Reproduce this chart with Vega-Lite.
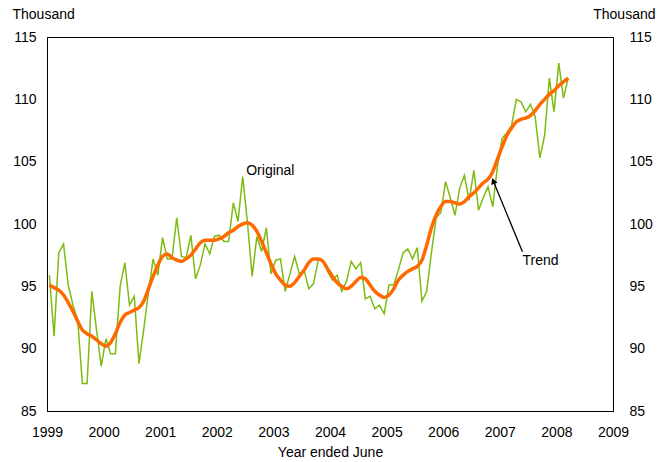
{
  "$schema": "https://vega.github.io/schema/vega-lite/v6.json",
  "width": 566,
  "height": 374,
  "autosize": {"type": "none"},
  "padding": {"left": 47, "top": 37, "right": 54, "bottom": 51},
  "background": "#ffffff",
  "config": {
    "view": {"stroke": "#000000", "strokeWidth": 1},
    "font": "Liberation Sans",
    "axis": {
      "grid": false, "ticks": false, "tickSize": 0, "domainColor": "#000000",
      "labelFont": "Liberation Sans", "labelFontSize": 14, "labelColor": "#000000",
      "titleFont": "Liberation Sans", "titleFontSize": 14, "titleFontWeight": "normal", "titleColor": "#000000"
    }
  },
  "datasets": {
    "series": [
      {"year": 1999.042, "original": 95.9, "trend": 95.1},
      {"year": 1999.125, "original": 91.0, "trend": 94.9},
      {"year": 1999.208, "original": 97.7, "trend": 94.7},
      {"year": 1999.292, "original": 98.4, "trend": 94.3},
      {"year": 1999.375, "original": 95.1, "trend": 93.7},
      {"year": 1999.458, "original": 93.5, "trend": 93.0},
      {"year": 1999.542, "original": 92.3, "trend": 92.2},
      {"year": 1999.625, "original": 87.2, "trend": 91.5},
      {"year": 1999.708, "original": 87.2, "trend": 91.2},
      {"year": 1999.792, "original": 94.6, "trend": 91.0},
      {"year": 1999.875, "original": 91.5, "trend": 90.7},
      {"year": 1999.958, "original": 88.6, "trend": 90.4},
      {"year": 2000.042, "original": 90.8, "trend": 90.2},
      {"year": 2000.125, "original": 89.6, "trend": 90.5},
      {"year": 2000.208, "original": 89.6, "trend": 91.2},
      {"year": 2000.292, "original": 95.0, "trend": 92.1},
      {"year": 2000.375, "original": 96.9, "trend": 92.7},
      {"year": 2000.458, "original": 93.5, "trend": 92.9},
      {"year": 2000.542, "original": 94.2, "trend": 93.1},
      {"year": 2000.625, "original": 88.8, "trend": 93.3},
      {"year": 2000.708, "original": 91.5, "trend": 93.8},
      {"year": 2000.792, "original": 94.5, "trend": 94.8},
      {"year": 2000.875, "original": 97.2, "trend": 95.8},
      {"year": 2000.958, "original": 95.9, "trend": 96.7},
      {"year": 2001.042, "original": 98.9, "trend": 97.4},
      {"year": 2001.125, "original": 97.2, "trend": 97.6},
      {"year": 2001.208, "original": 97.2, "trend": 97.3},
      {"year": 2001.292, "original": 100.5, "trend": 97.1},
      {"year": 2001.375, "original": 97.4, "trend": 97.0},
      {"year": 2001.458, "original": 97.3, "trend": 97.2},
      {"year": 2001.542, "original": 99.1, "trend": 97.5},
      {"year": 2001.625, "original": 95.6, "trend": 98.0},
      {"year": 2001.708, "original": 96.7, "trend": 98.5},
      {"year": 2001.792, "original": 98.4, "trend": 98.7},
      {"year": 2001.875, "original": 97.6, "trend": 98.7},
      {"year": 2001.958, "original": 99.0, "trend": 98.7},
      {"year": 2002.042, "original": 99.1, "trend": 98.8},
      {"year": 2002.125, "original": 98.6, "trend": 99.0},
      {"year": 2002.208, "original": 98.6, "trend": 99.3},
      {"year": 2002.292, "original": 101.7, "trend": 99.5},
      {"year": 2002.375, "original": 100.2, "trend": 99.8},
      {"year": 2002.458, "original": 103.8, "trend": 100.0},
      {"year": 2002.542, "original": 100.1, "trend": 100.1},
      {"year": 2002.625, "original": 95.8, "trend": 99.9},
      {"year": 2002.708, "original": 99.0, "trend": 99.4},
      {"year": 2002.792, "original": 97.8, "trend": 98.6},
      {"year": 2002.875, "original": 99.7, "trend": 97.7},
      {"year": 2002.958, "original": 96.0, "trend": 96.8},
      {"year": 2003.042, "original": 97.1, "trend": 96.0},
      {"year": 2003.125, "original": 97.2, "trend": 95.5},
      {"year": 2003.208, "original": 94.6, "trend": 95.1},
      {"year": 2003.292, "original": 96.0, "trend": 95.0},
      {"year": 2003.375, "original": 97.4, "trend": 95.3},
      {"year": 2003.458, "original": 96.0, "trend": 95.8},
      {"year": 2003.542, "original": 96.3, "trend": 96.3},
      {"year": 2003.625, "original": 94.8, "trend": 96.9},
      {"year": 2003.708, "original": 95.2, "trend": 97.2},
      {"year": 2003.792, "original": 97.1, "trend": 97.2},
      {"year": 2003.875, "original": 97.1, "trend": 97.0},
      {"year": 2003.958, "original": 96.2, "trend": 96.4},
      {"year": 2004.042, "original": 95.5, "trend": 95.8},
      {"year": 2004.125, "original": 95.9, "trend": 95.3},
      {"year": 2004.208, "original": 94.6, "trend": 95.0},
      {"year": 2004.292, "original": 95.4, "trend": 94.8},
      {"year": 2004.375, "original": 97.0, "trend": 95.0},
      {"year": 2004.458, "original": 96.4, "trend": 95.4},
      {"year": 2004.542, "original": 96.9, "trend": 95.7},
      {"year": 2004.625, "original": 94.0, "trend": 95.6},
      {"year": 2004.708, "original": 94.2, "trend": 95.1},
      {"year": 2004.792, "original": 93.2, "trend": 94.6},
      {"year": 2004.875, "original": 93.5, "trend": 94.3},
      {"year": 2004.958, "original": 92.8, "trend": 94.1},
      {"year": 2005.042, "original": 95.1, "trend": 94.3},
      {"year": 2005.125, "original": 95.1, "trend": 94.8},
      {"year": 2005.208, "original": 96.3, "trend": 95.5},
      {"year": 2005.292, "original": 97.7, "trend": 95.9},
      {"year": 2005.375, "original": 98.0, "trend": 96.2},
      {"year": 2005.458, "original": 97.2, "trend": 96.4},
      {"year": 2005.542, "original": 98.1, "trend": 96.6},
      {"year": 2005.625, "original": 93.8, "trend": 97.1},
      {"year": 2005.708, "original": 94.6, "trend": 98.3},
      {"year": 2005.792, "original": 97.7, "trend": 99.7},
      {"year": 2005.875, "original": 100.5, "trend": 100.7},
      {"year": 2005.958, "original": 100.9, "trend": 101.4},
      {"year": 2006.042, "original": 103.4, "trend": 101.8},
      {"year": 2006.125, "original": 102.1, "trend": 101.8},
      {"year": 2006.208, "original": 100.7, "trend": 101.7},
      {"year": 2006.292, "original": 102.9, "trend": 101.6},
      {"year": 2006.375, "original": 103.9, "trend": 101.8},
      {"year": 2006.458, "original": 101.9, "trend": 102.2},
      {"year": 2006.542, "original": 104.3, "trend": 102.5},
      {"year": 2006.625, "original": 101.1, "trend": 102.9},
      {"year": 2006.708, "original": 102.1, "trend": 103.3},
      {"year": 2006.792, "original": 103.0, "trend": 103.6},
      {"year": 2006.875, "original": 101.4, "trend": 104.2},
      {"year": 2006.958, "original": 104.6, "trend": 105.2},
      {"year": 2007.042, "original": 106.9, "trend": 106.2},
      {"year": 2007.125, "original": 107.3, "trend": 107.1},
      {"year": 2007.208, "original": 107.9, "trend": 107.7},
      {"year": 2007.292, "original": 110.0, "trend": 108.2},
      {"year": 2007.375, "original": 109.8, "trend": 108.4},
      {"year": 2007.458, "original": 109.0, "trend": 108.5},
      {"year": 2007.542, "original": 109.6, "trend": 108.7},
      {"year": 2007.625, "original": 108.6, "trend": 109.1},
      {"year": 2007.708, "original": 105.3, "trend": 109.6},
      {"year": 2007.792, "original": 107.1, "trend": 110.0},
      {"year": 2007.875, "original": 111.7, "trend": 110.4},
      {"year": 2007.958, "original": 109.0, "trend": 110.7},
      {"year": 2008.042, "original": 112.9, "trend": 111.1},
      {"year": 2008.125, "original": 110.1, "trend": 111.4},
      {"year": 2008.208, "original": 111.7, "trend": 111.7}
    ],
    "labels": [
      {"year": 2002.52, "value": 104.25, "label": "Original"},
      {"year": 2007.40, "value": 97.06, "label": "Trend"}
    ],
    "arrow": [
      {"year": 2007.40, "value": 97.78, "year2": 2006.87, "value2": 103.6}
    ],
    "arrowhead": [
      {"year": 2006.885, "value": 103.45}
    ]
  },
  "layer": [
    {
      "data": {"name": "series"},
      "mark": {"type": "line", "color": "#7DBB12", "strokeWidth": 1.5},
      "encoding": {
        "x": {
          "field": "year", "type": "quantitative",
          "scale": {"domain": [1999, 2009], "nice": false, "zero": false},
          "axis": {
            "values": [1999, 2000, 2001, 2002, 2003, 2004, 2005, 2006, 2007, 2008, 2009],
            "format": "d", "labelPadding": 14, "labelFlush": false,
            "title": "Year ended June", "titlePadding": 6
          }
        },
        "y": {
          "field": "original", "type": "quantitative",
          "scale": {"domain": [85, 115], "nice": false, "zero": false},
          "axis": {
            "orient": "left", "values": [85, 90, 95, 100, 105, 110, 115],
            "labelPadding": 11, "title": "Thousand", "titleAngle": 0,
            "titleAlign": "left", "titleBaseline": "middle", "titleX": -35, "titleY": -23
          }
        }
      }
    },
    {
      "data": {"name": "series"},
      "mark": {"type": "line", "color": "#FF6A00", "strokeWidth": 3.5, "interpolate": "monotone"},
      "encoding": {
        "x": {"field": "year", "type": "quantitative"},
        "y": {
          "field": "trend", "type": "quantitative",
          "axis": {
            "orient": "right", "values": [85, 90, 95, 100, 105, 110, 115],
            "labelPadding": 16, "title": "Thousand", "titleAngle": 0,
            "titleAlign": "right", "titleBaseline": "middle", "titleX": 42, "titleY": -23
          }
        }
      }
    },
    {
      "data": {"name": "labels"},
      "mark": {"type": "text", "align": "left", "baseline": "middle", "fontSize": 14, "font": "Liberation Sans", "color": "#000000"},
      "encoding": {
        "x": {"field": "year", "type": "quantitative"},
        "y": {"field": "value", "type": "quantitative", "axis": null},
        "text": {"field": "label"}
      }
    },
    {
      "data": {"name": "arrow"},
      "mark": {"type": "rule", "color": "#000000", "strokeWidth": 1.3},
      "encoding": {
        "x": {"field": "year", "type": "quantitative"},
        "y": {"field": "value", "type": "quantitative", "axis": null},
        "x2": {"field": "year2"},
        "y2": {"field": "value2"}
      }
    },
    {
      "data": {"name": "arrowhead"},
      "mark": {"type": "point", "shape": "triangle-up", "filled": true, "color": "#000000", "opacity": 1, "size": 45, "angle": 338},
      "encoding": {
        "x": {"field": "year", "type": "quantitative"},
        "y": {"field": "value", "type": "quantitative", "axis": null}
      }
    }
  ],
  "resolve": {"axis": {"y": "independent"}}
}
